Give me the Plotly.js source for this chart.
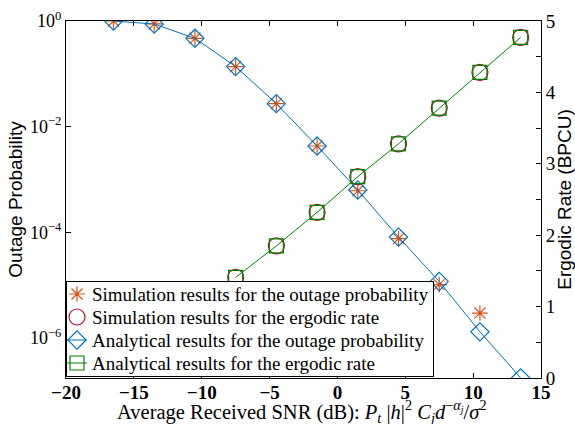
<!DOCTYPE html>
<html>
<head>
<meta charset="utf-8">
<script src="https://cdn.plot.ly/plotly-3.0.1.min.js"></script>
<style>html,body{margin:0;padding:0;background:#fff;}#chart{width:575px;height:424px;}</style>
</head>
<body>
<div id="chart"></div>
<script>
// SNR points (dB)
var snrOutage = [-16.5, -13.5, -10.5, -7.5, -4.5, -1.5, 1.5, 4.5, 7.5, 10.5, 13.5];
var snrRate = [-7.5, -4.5, -1.5, 1.5, 4.5, 7.5, 10.5, 13.5];
// Outage probability
var simOutageX = [-16.5, -13.5, -10.5, -7.5, -4.5, -1.5, 1.5, 4.5, 7.5, 10.5];
var simOutage = [1.0, 0.88, 0.47, 0.137, 0.0272, 0.0043, 6.1e-4, 7.6e-5, 1.02e-5, 2.95e-6];
var anaOutage = [1.0, 0.877, 0.47, 0.137, 0.0272, 0.0043, 6.3e-4, 8.1e-5, 1.17e-5, 1.3e-6, 1.75e-7];
// Ergodic rate (BPCU)
var simRate = [1.41, 1.85, 2.32, 2.82, 3.28, 3.78, 4.28, 4.77];
var anaRate = [1.41, 1.85, 2.32, 2.82, 3.28, 3.78, 4.28, 4.77];
var legendNames = [
  'Simulation results for the outage probability',
  'Simulation results for the ergodic rate',
  'Analytical results for the outage probability',
  'Analytical results for the ergodic rate'
];
var xTickVals = [-20, -15, -10, -5, 0, 5, 10, 15];
var xTickText = ['\u221220', '\u221215', '\u221210', '\u22125', '0', '5', '10', '15'];
var yTickVals = [1, 1e-2, 1e-4, 1e-6];
var yTickText = ['10<sup>0</sup>', '10<sup>\u22122</sup>', '10<sup>\u22124</sup>', '10<sup>\u22126</sup>'];
var xTitle = 'Average Received SNR (dB): <i>P</i><sub><i>t</i></sub> |<i>h</i>|<sup>2</sup> <i>C</i><sub><i>j</i></sub><i>d</i><sup>\u2212<i>\u03b1<sub>j</sub></i></sup>/<i>\u03c3</i><sup>2</sup>';

var serif = '"Liberation Serif", "Times New Roman", serif';
var sans = '"Liberation Sans", Arial, sans-serif';
var blue = '#0072BD', orange = '#D95319', red = '#A2142F', green = '#008000';

var traces = [
  {x: simOutageX, y: simOutage, yaxis: 'y', mode: 'markers', name: legendNames[0],
   marker: {symbol: 'asterisk-open', size: 13, color: orange, line: {color: orange, width: 1.2}}},
  {x: snrRate, y: simRate, yaxis: 'y2', mode: 'markers', name: legendNames[1],
   marker: {symbol: 'circle-open', size: 16, color: red, line: {color: red, width: 1.2}}},
  {x: snrOutage, y: anaOutage, yaxis: 'y', mode: 'lines+markers', name: legendNames[2],
   line: {color: blue, width: 1},
   marker: {symbol: 'diamond-open', size: 14, color: blue, line: {color: blue, width: 1.2}}},
  {x: snrRate, y: anaRate, yaxis: 'y2', mode: 'lines+markers', name: legendNames[3],
   line: {color: green, width: 1},
   marker: {symbol: 'square-open', size: 14, color: green, line: {color: green, width: 1.2}}}
];

var layout = {
  width: 575, height: 424,
  margin: {l: 66, r: 34, t: 21, b: 46},
  paper_bgcolor: '#fff', plot_bgcolor: '#fff',
  showlegend: true,
  legend: {x: 0, y: 0.008, xanchor: 'left', yanchor: 'bottom', bgcolor: '#fff',
           bordercolor: '#000', borderwidth: 1, font: {family: serif, size: 19, color: '#000'},
           tracegroupgap: 0},
  xaxis: {
    range: [-20, 15], tickvals: xTickVals, ticktext: xTickText,
    ticks: 'inside', ticklen: 5, tickcolor: '#000', showline: true, linecolor: '#000', linewidth: 1,
    mirror: 'ticks', showgrid: false, zeroline: false, ticklabelstandoff: -3,
    tickfont: {family: serif, size: 19, color: '#000', weight: 'bold'}
  },
  yaxis: {
    type: 'log', range: [-6.76, 0], tickvals: yTickVals, ticktext: yTickText,
    ticks: 'inside', ticklen: 5, tickcolor: '#000', showline: true, linecolor: '#000', linewidth: 1,
    showgrid: false, zeroline: false,
    tickfont: {family: serif, size: 18, color: '#000'},
    title: {text: 'Outage Probability', font: {family: sans, size: 19, color: '#000'}, standoff: 2}
  },
  yaxis2: {
    overlaying: 'y', side: 'right', range: [0, 5], dtick: 1,
    ticks: 'inside', ticklen: 5, tickcolor: '#000', showline: true, linecolor: '#000', linewidth: 1,
    minor: {dtick: 0.5, ticks: 'inside', ticklen: 5, tickcolor: '#000'},
    showgrid: false, zeroline: false,
    tickfont: {family: serif, size: 19, color: '#000'},
    title: {text: 'Ergodic Rate (BPCU)', font: {family: sans, size: 19, color: '#000'}, standoff: 4}
  },
  annotations: [{
    text: xTitle, xref: 'paper', yref: 'paper', x: 0.497, y: -0.124, yshift: -6,
    xanchor: 'center', yanchor: 'bottom', showarrow: false,
    font: {family: serif, size: 20.5, color: '#000'}
  }]
};

var gd = document.getElementById('chart');
Plotly.newPlot(gd, traces, layout, {displayModeBar: false, staticPlot: true}).then(function () {
  // tighten the legend to the compact look of the reference
  var leg = gd.querySelector('g.legend');
  if (!leg) return;
  leg.setAttribute('transform', 'translate(66,280.5)');
  var bg = leg.querySelector('rect.bg');
  if (bg) { bg.setAttribute('width', 366.5); bg.setAttribute('height', 95); }
  var sb = leg.querySelector('g.scrollbox');
  if (sb) sb.setAttribute('transform', 'translate(0,0)');
  var items = leg.querySelectorAll('g.traces');
  items.forEach(function (t, i) {
    t.setAttribute('transform', 'translate(1,' + (13.5 + i * 23) + ')');
    var tx = t.querySelector('text.legendtext');
    if (tx) tx.setAttribute('x', 25);
    t.querySelectorAll('.legendlines path').forEach(function (p) { p.setAttribute('d', 'M0,0h20'); });
    t.querySelectorAll('.legendpoints path').forEach(function (p) { p.setAttribute('transform', 'translate(10,0)'); });
  });
});
</script>
</body>
</html>
